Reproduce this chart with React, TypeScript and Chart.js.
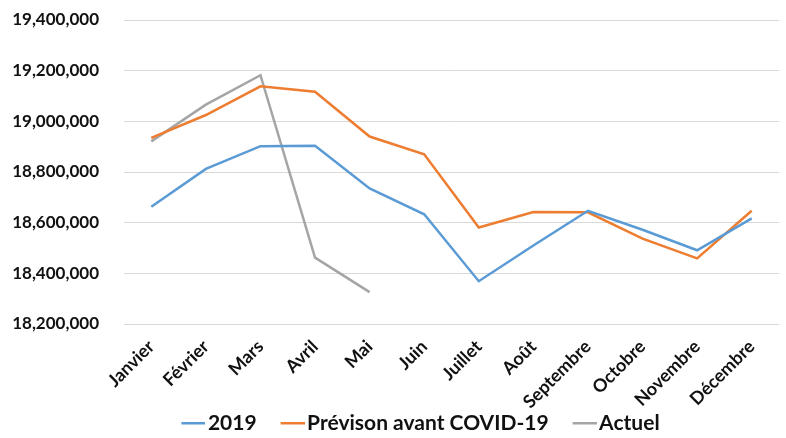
import React, { useEffect, useRef } from "react";
import { Chart, registerables } from "chart.js";

Chart.register(...registerables);

const months = ["Janvier", "Février", "Mars", "Avril", "Mai", "Juin", "Juillet", "Août", "Septembre", "Octobre", "Novembre", "Décembre"];
const series2019 = [18663000, 18812000, 18902000, 18904000, 18735000, 18633000, 18369000, 18510000, 18647000, 18572000, 18491000, 18617000];
const seriesPrevision = [18935000, 19025000, 19138000, 19117000, 18940000, 18870000, 18581000, 18642000, 18641000, 18537000, 18459000, 18647000];
const seriesActuel = [18921000, 19066000, 19182000, 18462000, 18326000, null, null, null, null, null, null, null];

const FONT = "Lato, 'Open Sans', sans-serif";

// legend swatch image: transparent on the left, coloured line on the right
function makeSwatch(color: string) {
  const c = document.createElement("canvas");
  c.width = 56;
  c.height = 6;
  const g = c.getContext("2d")!;
  g.fillStyle = color;
  g.fillRect(32, 2, 24, 2.5);
  return c;
}

const shiftLegend = {
  id: "shiftLegend",
  afterLayout(chart: any) {
    const l = chart.legend;
    if (l) { l.left += 19; l.right += 19; }
  },
};

export default function App() {
  const ref = useRef<HTMLCanvasElement | null>(null);
  useEffect(() => {
    if (!ref.current) return;
    const chart = new Chart(ref.current, {
      type: "line",
      plugins: [shiftLegend],
      data: {
        labels: months,
        datasets: [
          { label: "2019", data: series2019, borderColor: "#5B9BD5", backgroundColor: "#5B9BD5", borderWidth: 2.5, pointRadius: 0, tension: 0 },
          { label: "Prévison avant COVID-19", data: seriesPrevision, borderColor: "#ED7D31", backgroundColor: "#ED7D31", borderWidth: 2.5, pointRadius: 0, tension: 0 },
          { label: "Actuel", data: seriesActuel, borderColor: "#A5A5A5", backgroundColor: "#A5A5A5", borderWidth: 2.5, pointRadius: 0, tension: 0 },
        ],
      },
      options: {
        animation: false,
        responsive: false,
        maintainAspectRatio: false,
        layout: { padding: { top: 20, right: 7, left: 0, bottom: -5.5 } },
        plugins: {
          tooltip: { enabled: false },
          legend: {
            position: "bottom",
            labels: {
              usePointStyle: true,
              pointStyleWidth: 40,
              boxHeight: 2,
              padding: 0,
              color: "#111",
              font: { family: FONT, size: 21, weight: "bold" },
              generateLabels: (ch: any) =>
                ch.data.datasets.map((ds: any, i: number) => ({
                  text: ds.label,
                  fillStyle: ds.borderColor,
                  strokeStyle: ds.borderColor,
                  lineWidth: 0,
                  hidden: false,
                  datasetIndex: i,
                  fontColor: "#111",
                  pointStyle: makeSwatch(ds.borderColor),
                })),
            },
          },
        },
        scales: {
          x: {
            offset: true,
            afterFit: (s: any) => { s.height = 88.5; },
            grid: { display: false, drawTicks: false },
            border: { display: false },
            ticks: {
              maxRotation: 45,
              minRotation: 45,
              autoSkip: false,
              padding: 12,
              color: "#111",
              font: { family: FONT, size: 18, weight: "bold" },
            },
          },
          y: {
            min: 18200000,
            max: 19400000,
            afterFit: (s: any) => { s.width = 124; },
            grid: { color: "#d9d9d9", lineWidth: 1, drawTicks: true, tickLength: 22, tickColor: "rgba(0,0,0,0)" },
            border: { display: false },
            ticks: {
              stepSize: 200000,
              padding: 3,
              color: "#111",
              font: { family: FONT, size: 17, weight: "bold" },
              callback: (v: any) => Number(v).toLocaleString("en-US"),
            },
          },
        },
      },
    });
    return () => chart.destroy();
  }, []);
  return (
    <div style={{ position: "fixed", left: 0, top: 0, width: 786, height: 438, background: "#fff" }}>
      <canvas ref={ref} width={786} height={438} style={{ width: 786, height: 438 }} />
    </div>
  );
}
